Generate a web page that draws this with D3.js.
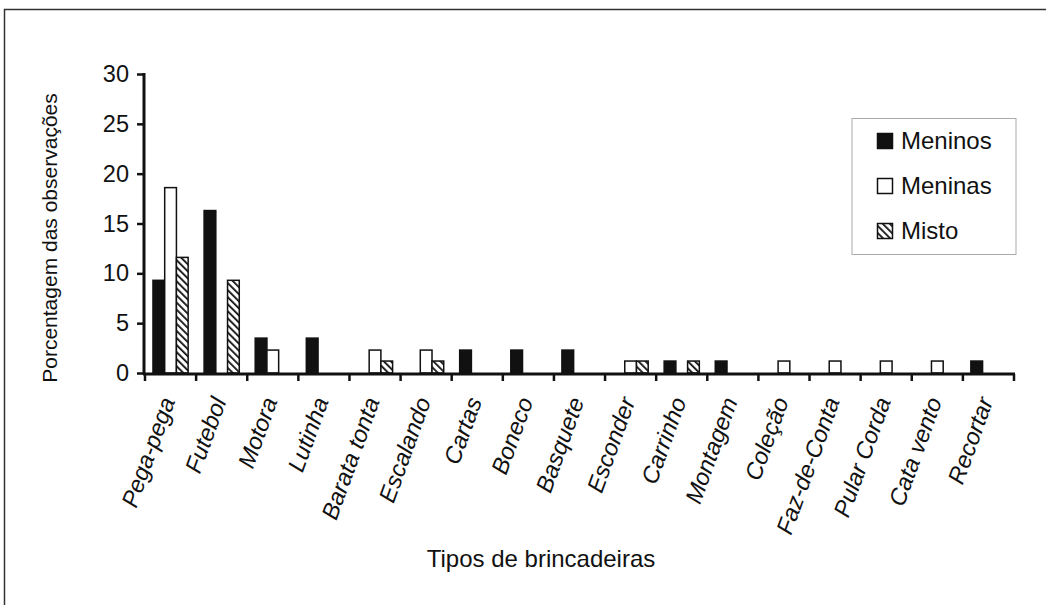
<!DOCTYPE html>
<html><head><meta charset="utf-8">
<script src="https://cdn.jsdelivr.net/npm/d3@7"></script>
<style>body{margin:0;background:#fff}svg{display:block}text{font-family:"Liberation Sans",Arial,sans-serif;fill:#111}</style>
</head><body>
<svg id="c" width="1046" height="605"></svg>
<script>
const categories = ["Pega-pega","Futebol","Motora","Lutinha","Barata tonta","Escalando","Cartas","Boneco","Basquete","Esconder","Carrinho","Montagem","Coleção","Faz-de-Conta","Pular Corda","Cata vento","Recortar"];
const series = ["Meninos","Meninas","Misto"];
const meninos = [9.3,16.3,3.5,3.5,0,0,2.3,2.3,2.3,0,1.2,1.2,0,0,0,0,1.2];
const meninas = [18.6,0,2.3,0,2.3,2.3,0,0,0,1.2,0,0,1.2,1.2,1.2,1.2,0];
const misto   = [11.6,9.3,0,0,1.2,1.2,0,0,0,1.2,1.2,0,0,0,0,0,0];
const yTicks = [0,5,10,15,20,25,30];
const yTitle = "Porcentagem das observações";
const xTitle = "Tipos de brincadeiras";

const values = {Meninos: meninos, Meninas: meninas, Misto: misto};
const svg = d3.select("#c");
const defs = svg.append("defs");
const pat = defs.append("pattern").attr("id","hatch").attr("patternUnits","userSpaceOnUse")
  .attr("width",5).attr("height",5).attr("patternTransform","rotate(-45)");
pat.append("rect").attr("width",5).attr("height",5).attr("fill","#fff");
pat.append("rect").attr("x",0).attr("y",0).attr("width",1.8).attr("height",5).attr("fill","#111");
const fills = {Meninos:"#111", Meninas:"#fff", Misto:"url(#hatch)"};

// frame
svg.append("path").attr("d","M4.5,605 L4.5,9.5 L1046,9.5").attr("fill","none").attr("stroke","#333").attr("stroke-width",1.5);

const x = d3.scaleBand().domain(categories).range([145,1014]).padding(0);
const xs = d3.scaleBand().domain(series).range([0,x.bandwidth()]).paddingInner(0).paddingOuter(0.68);
const y = d3.scaleLinear().domain([0,30]).range([373,74]);

// bars
series.forEach(s=>{
  svg.append("g").selectAll("rect").data(categories.map((c,i)=>({c,v:values[s][i]})).filter(d=>d.v>0))
    .join("rect")
    .attr("x",d=>x(d.c)+xs(s)).attr("width",xs.bandwidth())
    .attr("y",d=>y(d.v)).attr("height",d=>y(0)-y(d.v))
    .attr("fill",fills[s]).attr("stroke","#111").attr("stroke-width",1.5);
});

// y axis
const ya = svg.append("g").attr("transform","translate(144,0)")
  .call(d3.axisLeft(y).tickValues(yTicks).tickSize(7).tickPadding(8));
ya.select(".domain").attr("stroke","#111").attr("stroke-width",3).attr("d","M0,73V374.5");
ya.selectAll(".tick line").attr("stroke","#111").attr("stroke-width",2.5);
ya.selectAll(".tick text").attr("font-size",23.5).attr("fill","#111").attr("font-family","Liberation Sans, Arial, sans-serif");

// x axis (ticks at band boundaries)
const bounds = categories.map(c=>x(c)).concat([x.range()[1]]);
svg.append("line").attr("x1",143).attr("x2",1015).attr("y1",374).attr("y2",374).attr("stroke","#111").attr("stroke-width",3);
svg.append("g").selectAll("line").data(bounds).join("line")
  .attr("x1",d=>d).attr("x2",d=>d).attr("y1",374).attr("y2",381).attr("stroke","#111").attr("stroke-width",2.5);

// x labels
svg.append("g").selectAll("text").data(categories).join("text")
  .attr("transform",d=>`translate(${x(d)+x.bandwidth()/2+5},401) rotate(-70)`)
  .attr("text-anchor","end").attr("font-size",23.5).attr("font-style","italic")
  .text(d=>d);

// titles
svg.append("text").attr("x",541).attr("y",567).attr("text-anchor","middle").attr("font-size",24).text(xTitle);
svg.append("text").attr("transform","translate(57,238) rotate(-90)").attr("text-anchor","middle").attr("font-size",21).text(yTitle);

// legend
const lg = svg.append("g");
lg.append("rect").attr("x",852).attr("y",118.5).attr("width",164).attr("height",136).attr("fill","#fff").attr("stroke","#aaa").attr("stroke-width",1);
series.forEach((s,i)=>{
  const yy = 133 + i*45;
  lg.append("rect").attr("x",877.5).attr("y",yy+0.5).attr("width",15).attr("height",15).attr("fill",fills[s]).attr("stroke","#111").attr("stroke-width",1.5);
  lg.append("text").attr("x",901).attr("y",yy+16).attr("font-size",24).text(s);
});
</script>
</body></html>
